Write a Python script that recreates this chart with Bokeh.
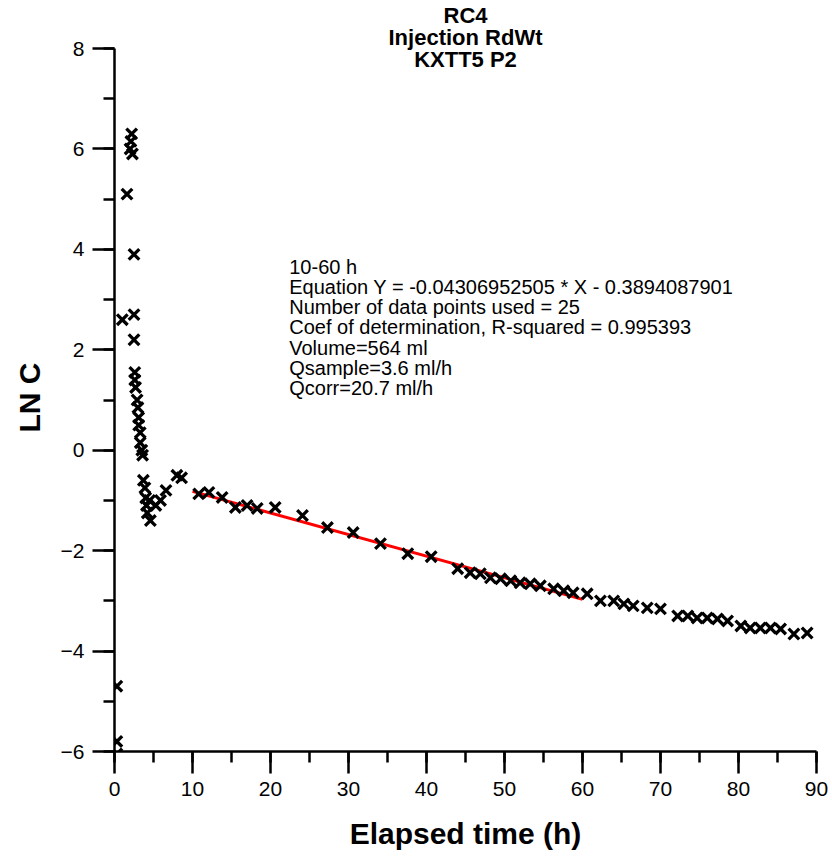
from bokeh.plotting import figure
from bokeh.models import Range1d, SingleIntervalTicker, Label, Title
from bokeh.embed import file_html
from bokeh.resources import INLINE

# ---- data ----
early_x = [0.3, 0.3, 0.3, 1.0, 1.6, 2.0, 2.1, 2.2, 2.3, 2.5, 2.5, 2.5, 2.6, 2.6, 2.7,
           2.9, 3.0, 3.1, 3.1, 3.3, 3.3, 3.5, 3.6, 3.7, 3.9, 4.0, 4.1, 4.2, 4.6, 4.5,
           5.3, 5.9, 6.6, 8.0, 8.6]
early_y = [-6.05, -5.8, -4.7, 2.6, 5.1, 6.0, 6.15, 6.3, 5.9, 3.9, 2.7, 2.2, 1.55, 1.4, 1.25,
           1.0, 0.85, 0.65, 0.5, 0.35, 0.15, 0.0, -0.1, -0.6, -0.75, -0.95, -1.1, -1.25, -1.4, -1.0,
           -1.1, -1.0, -0.8, -0.5, -0.55]

late_x = [10.8, 12.1, 13.8, 15.5, 17.0, 18.3, 20.6, 24.1, 27.3, 30.6, 34.1, 37.6, 40.6,
          44.0, 45.6, 46.9, 48.2, 49.5, 50.8, 52.0, 53.3, 54.6, 56.3, 57.6, 58.8,
          60.6, 62.3, 64.0, 65.3, 66.5, 68.3, 70.0, 72.2, 73.5, 74.7, 76.0, 77.3, 78.6,
          80.3, 81.5, 82.8, 84.1, 85.4, 87.1, 88.8]
late_y = [-0.87, -0.84, -0.94, -1.14, -1.1, -1.16, -1.14, -1.3, -1.54, -1.64, -1.86, -2.06, -2.12,
          -2.36, -2.44, -2.46, -2.54, -2.56, -2.6, -2.64, -2.66, -2.7, -2.76, -2.8, -2.84,
          -2.86, -3.0, -3.0, -3.06, -3.1, -3.14, -3.16, -3.3, -3.3, -3.34, -3.34, -3.36, -3.4,
          -3.5, -3.54, -3.54, -3.54, -3.56, -3.66, -3.64]

fit_x = [10, 60]
fit_y = [-0.82, -2.97]

title_lines = ["RC4", "Injection RdWt", "KXTT5 P2"]
info_lines = [
    "10-60 h",
    "Equation Y = -0.04306952505  * X - 0.3894087901",
    "Number of data points used = 25",
    "Coef of determination, R-squared = 0.995393",
    "Volume=564  ml",
    "Qsample=3.6 ml/h",
    "Qcorr=20.7 ml/h",
]
x_label = "Elapsed time (h)"
y_label = "LN C"

FONT = "Liberation Sans"

# frame extends to the top of the canvas so that the title labels are not clipped;
# the y axis itself is bounded to -6..8
FRAME_H = 751
px_per_y = 703 / 14.0
y_top = 8 + 48 / px_per_y

p = figure(frame_width=702, frame_height=FRAME_H,
           min_border_left=114, min_border_right=16, min_border_top=0, min_border_bottom=102,
           x_range=Range1d(0, 90), y_range=Range1d(-6, y_top),
           output_backend="svg", toolbar_location=None)

p.outline_line_color = None
p.xgrid.visible = False
p.ygrid.visible = False

p.xaxis.ticker = SingleIntervalTicker(interval=10, num_minor_ticks=2)
p.yaxis.ticker = SingleIntervalTicker(interval=2, num_minor_ticks=2)
p.yaxis.bounds = (-6, 8)

for ax in (p.xaxis[0], p.yaxis[0]):
    ax.axis_line_width = 2.5
    ax.axis_line_color = "black"
    ax.major_tick_line_width = 2.5
    ax.minor_tick_line_width = 2.5
    ax.major_tick_line_color = "black"
    ax.minor_tick_line_color = "black"
    ax.major_tick_out = 22
    ax.major_tick_in = 0
    ax.minor_tick_out = 11
    ax.minor_tick_in = 0
    ax.major_label_text_font = FONT
    ax.major_label_text_font_size = "21px"
    ax.major_label_text_color = "black"
    ax.axis_label_text_font = FONT
    ax.axis_label_text_font_style = "bold"
    ax.axis_label_text_font_size = "30px"
    ax.axis_label_text_color = "black"

p.xaxis.axis_label = x_label
p.xaxis.major_label_standoff = 8
p.yaxis.major_label_standoff = 8
p.xaxis.axis_label_standoff = 18

# y axis label as a left-side title, centred on the -6..8 span of the axis
ylab = Title(text=y_label, align="left", offset=FRAME_H - 432, vertical_align="middle",
             text_font=FONT, text_font_style="bold", text_font_size="30px",
             text_color="black", standoff=22)
p.add_layout(ylab, "left")

p.line(fit_x, fit_y, line_color="red", line_width=3)
p.scatter(early_x, early_y, marker="x", size=15, line_color="black", line_width=3.3)
p.scatter(late_x, late_y, marker="x", size=15, line_color="black", line_width=3.3)

# title lines (page y centres ~15, 37, 59 px)
for i, t in enumerate(title_lines):
    yy = 8 + (33 - 22 * i) / px_per_y
    p.add_layout(Label(x=45, y=yy, text=t, text_align="center", text_baseline="middle",
                       text_font=FONT, text_font_style="bold", text_font_size="22px",
                       text_color="black"))

for i, t in enumerate(info_lines):
    yy = 8 - (218 + 20.3 * i) / px_per_y
    p.add_layout(Label(x=22.4, y=yy, text=t, text_align="left", text_baseline="middle",
                       text_font=FONT, text_font_size="20px", text_color="black"))

open("out.html", "w").write(file_html(p, INLINE))
